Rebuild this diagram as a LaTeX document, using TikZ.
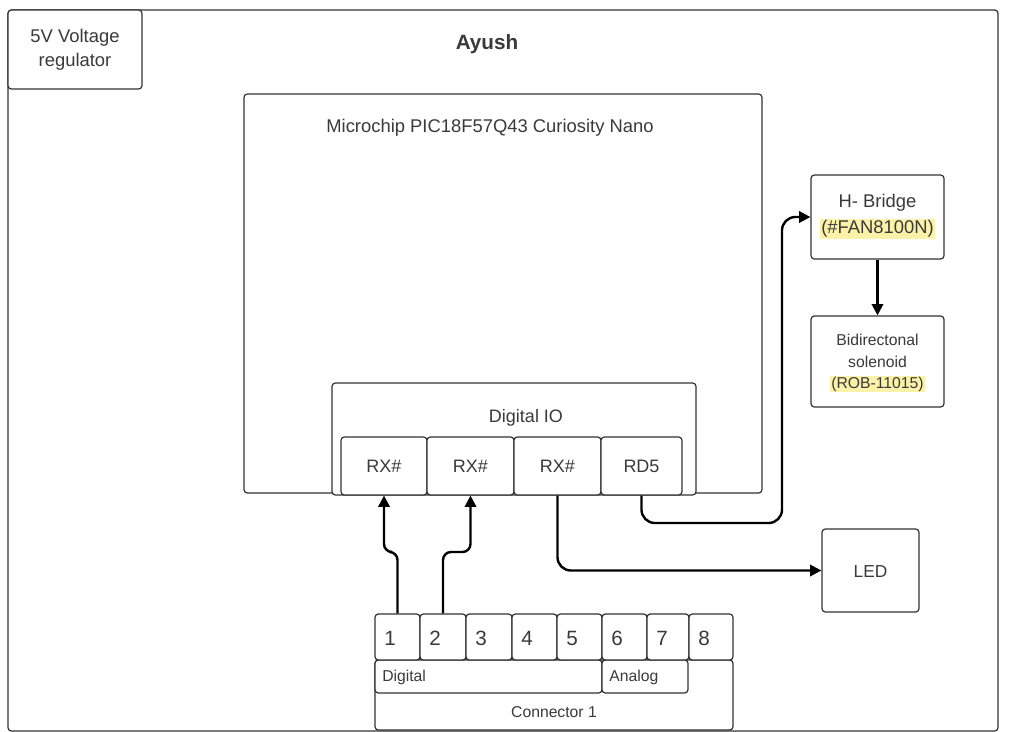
\documentclass[tikz,border=0pt]{standalone}
\usepackage{fontspec}
\setmainfont{Liberation Sans}
\usetikzlibrary{arrows.meta}
\definecolor{txt}{HTML}{3A3A3A}
\definecolor{edge}{HTML}{333333}
\definecolor{hl}{HTML}{FBF1A9}
\newcommand{\hlt}[1]{{\setlength{\fboxsep}{0.8pt}\colorbox{hl}{#1}}}
\tikzset{
  box/.style={draw=edge, line width=0.9pt, rounded corners=2.5pt, inner sep=0pt, fill=white},
  lbl/.style={text=txt, inner sep=0pt, font=\fontsize{13.5}{16}\selectfont},
  small/.style={text=txt, inner sep=0pt, font=\fontsize{11.8}{14}\selectfont},
  arr/.style={draw=black, line width=1.8pt, -{Triangle[length=8.5pt,width=8.5pt]}},
}
\begin{document}
\begin{tikzpicture}[x=0.75pt,y=-0.75pt]
\useasboundingbox (0,0) rectangle (1018,732);
% outer frame
\node[box, minimum width=990*0.75pt, minimum height=721*0.75pt] (frame) at (503,370.5) {};
\node[lbl, font=\bfseries\fontsize{15.5}{18}\selectfont] (title) at (487,44) {Ayush};
% voltage regulator
\node[box, minimum width=134*0.75pt, minimum height=79*0.75pt] (vreg) at (75,49.5) {};
\node[lbl, align=center, font=\fontsize{13.8}{18}\selectfont] (vregt) at (75,50) {5V Voltage\\regulator};
% microchip
\node[box, minimum width=518*0.75pt, minimum height=399*0.75pt] (mcu) at (503,293.5) {};
\node[lbl, font=\fontsize{13.8}{16}\selectfont] (mcut) at (490,128) {Microchip PIC18F57Q43 Curiosity Nano};
% digital IO
\node[box, minimum width=364*0.75pt, minimum height=112*0.75pt] (dio) at (514,439) {};
\node[lbl] (diot) at (526,418) {Digital IO};
\node[box, minimum width=86*0.75pt, minimum height=58*0.75pt] (rx1) at (384,466) {};
\node[box, minimum width=87*0.75pt, minimum height=58*0.75pt] (rx2) at (470.5,466) {};
\node[box, minimum width=87*0.75pt, minimum height=58*0.75pt] (rx3) at (557.5,466) {};
\node[box, minimum width=81*0.75pt, minimum height=58*0.75pt] (rd5) at (641.5,466) {};
\node[lbl] (rx1t) at (rx1) {RX\#};
\node[lbl] (rx2t) at (rx2) {RX\#};
\node[lbl] (rx3t) at (rx3) {RX\#};
\node[lbl] (rd5t) at (rd5) {RD5};
% H-bridge
\node[box, minimum width=133*0.75pt, minimum height=84*0.75pt] (hb) at (877.5,217) {};
\node[lbl, font=\fontsize{13.8}{16}\selectfont] (hbt1) at (877.5,203) {H- Bridge};
\node[lbl, font=\fontsize{13.8}{16}\selectfont] (hbt2) at (877.5,229) {\hlt{(\#FAN8100N)}};
% solenoid
\node[box, minimum width=133*0.75pt, minimum height=91*0.75pt] (sol) at (877.5,361.5) {};
\node[small] (solt1) at (877.5,340) {Bidirectonal};
\node[small] (solt2) at (877.5,361.5) {solenoid};
\node[small] (solt3) at (877.5,384) {\hlt{(ROB-11015)}};
% LED
\node[box, minimum width=97*0.75pt, minimum height=83*0.75pt] (led) at (870.5,570.5) {};
\node[lbl, font=\fontsize{13}{16}\selectfont] (ledt) at (870.5,572) {LED};
% connector
\node[box, minimum width=358*0.75pt, minimum height=70*0.75pt] (con) at (554,695) {};
\node[small] (cont) at (554,712) {Connector 1};
\node[box, minimum width=227*0.75pt, minimum height=33*0.75pt] (dig) at (488.5,676.5) {};
\node[small, anchor=west] (digt) at (382,677) {Digital};
\node[box, minimum width=86*0.75pt, minimum height=33*0.75pt] (ana) at (645,676.5) {};
\node[small, anchor=west] (anat) at (609,677) {Analog};
\foreach \n/\cx/\w in {1/397.5/45, 2/443/46, 3/489/46, 4/534.5/45, 5/579.5/45, 6/624.5/45, 7/668/42, 8/711/44} {
  \node[box, minimum width=\w*0.75pt, minimum height=46*0.75pt] (pin\n) at (\cx,637) {};
  \node[lbl, anchor=west, font=\fontsize{15.5}{18}\selectfont] (pin\n t) at (\cx-\w/2+9,638) {\n};
}
% connectors
\coordinate (j1) at (397.5,552);
\coordinate (j2) at (443,552);
\coordinate (bend) at (782,523);
\draw[arr, rounded corners=6pt] (pin1.north) -- (j1) -| (rx1.south);
\draw[arr, rounded corners=6pt] (pin2.north) -- (j2) -| (rx2.south);
\draw[arr, rounded corners=10pt] (rx3.south) |- (led.west);
\draw[arr, rounded corners=10pt] (rd5.south) |- (bend) |- (hb.west);
\draw[arr] (hb.south) -- (sol.north);
\end{tikzpicture}
\end{document}
